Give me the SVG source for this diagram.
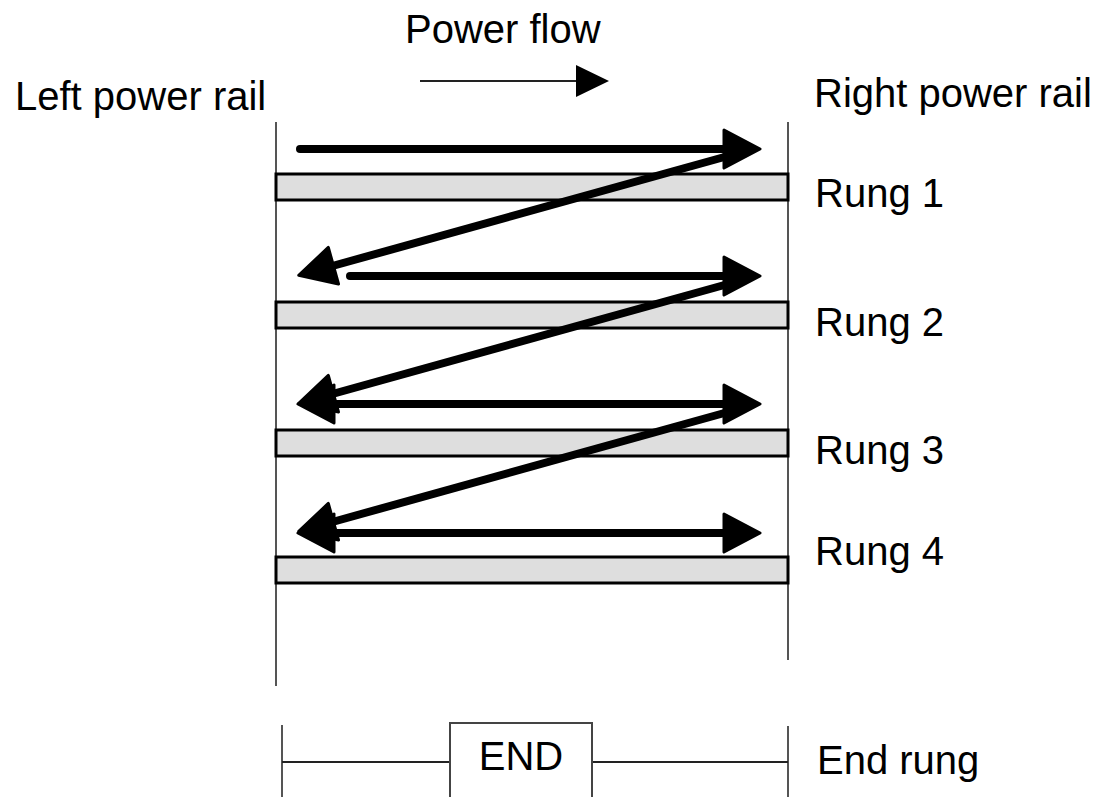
<svg xmlns="http://www.w3.org/2000/svg" width="1101" height="797" viewBox="0 0 1101 797">
<defs>
<style>
text{font-family:"Liberation Sans",Arial,sans-serif;font-size:40px;fill:#000}
.rail{stroke:#555;stroke-width:2;fill:none}
.rung{fill:#dedede;stroke:#000;stroke-width:3}
.flow{stroke:#000;stroke-width:8;fill:none}
.thin{stroke:#222;stroke-width:2;fill:none}
</style>
<marker id="head" markerUnits="userSpaceOnUse" viewBox="-2 -2 42 42" markerWidth="42" markerHeight="42" refX="16" refY="19" orient="auto-start-reverse">
<path d="M0,0 L36,19 L0,38 Z" fill="#000" stroke="#000" stroke-width="3" stroke-linejoin="round"/>
</marker>
<marker id="small" markerUnits="userSpaceOnUse" viewBox="0 0 33 33" markerWidth="33" markerHeight="33" refX="4" refY="16" orient="auto">
<path d="M0,0 L33,16 L0,32 Z" fill="#000"/>
</marker>
</defs>
<g id="title">
<text x="405" y="43">Power flow</text>
<line class="thin" x1="420" y1="81" x2="580" y2="81" stroke="#000" marker-end="url(#small)"/>
</g>
<g id="left-rail">
<text x="15" y="110">Left power rail</text>
<line class="rail" x1="276" y1="122" x2="276" y2="686"/>
</g>
<g id="right-rail">
<text x="814" y="107">Right power rail</text>
<line class="rail" x1="788" y1="122" x2="788" y2="660"/>
</g>
<g id="rung1">
<rect class="rung" x="276" y="174" width="512" height="26"/>
<text x="815" y="207">Rung 1</text>
</g>
<g id="rung2">
<rect class="rung" x="276" y="302" width="512" height="26"/>
<text x="815" y="336">Rung 2</text>
</g>
<g id="rung3">
<rect class="rung" x="276" y="430" width="512" height="26"/>
<text x="815" y="464">Rung 3</text>
</g>
<g id="rung4">
<rect class="rung" x="276" y="557" width="512" height="26"/>
<text x="815" y="565">Rung 4</text>
</g>
<g id="end-rung">
<line class="rail" x1="282" y1="725" x2="282" y2="797"/>
<line class="rail" x1="788" y1="726" x2="788" y2="797"/>
<line class="thin" x1="282" y1="762" x2="450" y2="762"/>
<line class="thin" x1="592" y1="762" x2="788" y2="762"/>
<rect x="450" y="723" width="142" height="76" fill="#fff" stroke="#444" stroke-width="2"/>
<text x="521" y="770" text-anchor="middle">END</text>
<text x="817" y="774">End rung</text>
</g>
<g id="connectors">
<path class="flow" d="M300,149 L740,149" stroke-linecap="round" marker-end="url(#head)"/>
<path class="flow" d="M728,156 L318,270" marker-end="url(#head)"/>
<path class="flow" d="M350,276 L740,276" stroke-linecap="round" marker-end="url(#head)"/>
<path class="flow" d="M728,284 L318,398" marker-end="url(#head)"/>
<path class="flow" d="M318,404 L740,404" marker-start="url(#head)" marker-end="url(#head)"/>
<path class="flow" d="M728,412 L318,526" marker-end="url(#head)"/>
<path class="flow" d="M318,533 L740,533" marker-start="url(#head)" marker-end="url(#head)"/>
</g>
</svg>
